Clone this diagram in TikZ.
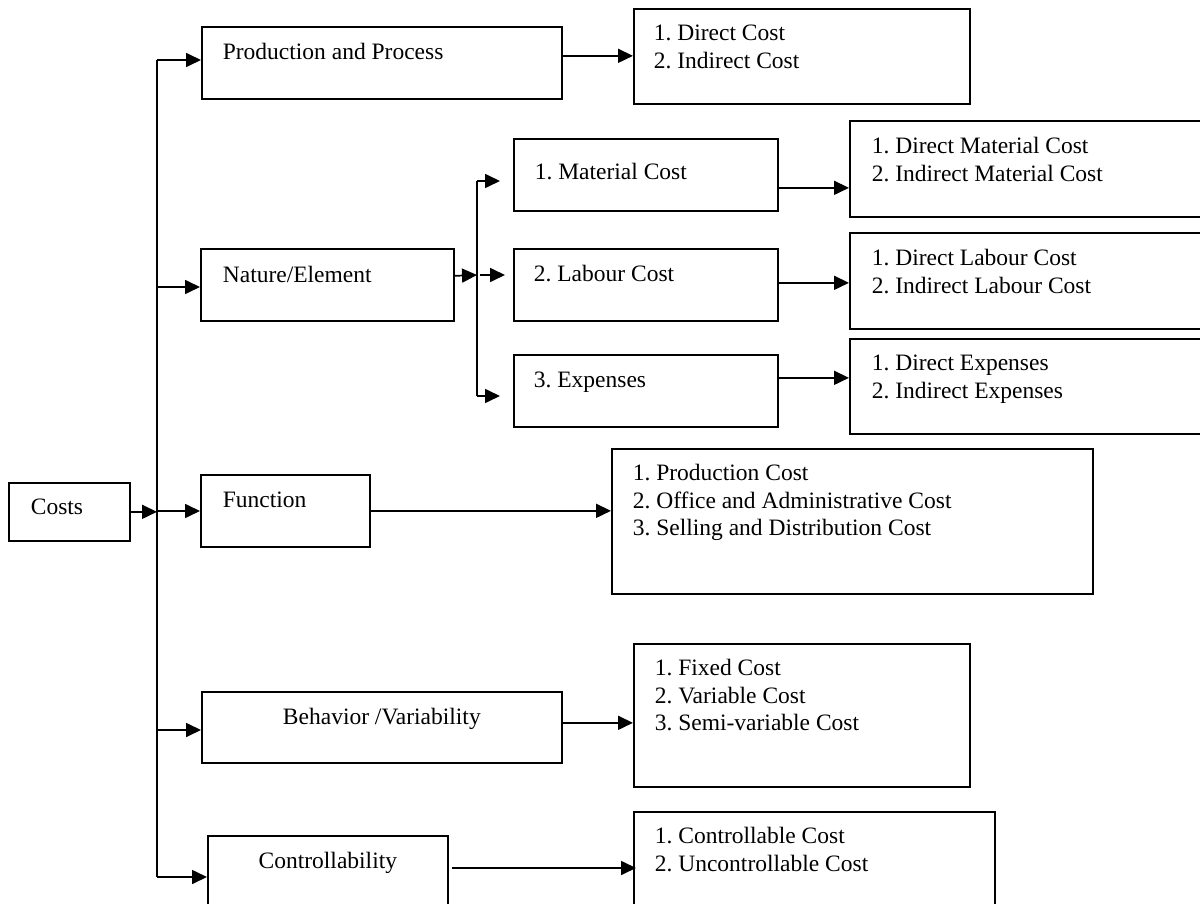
\documentclass[tikz,border=0pt]{standalone}
\usepackage{fontspec}
\setmainfont{Liberation Serif}
\usetikzlibrary{arrows.meta}
\usetikzlibrary{calc}
\frenchspacing

% width, height, first baseline, left pad, text
\newcommand{\boxtext}[5]{\parbox[t][#2][t]{#1}{\raggedright\leftskip=#4\relax
    \vspace*{\dimexpr#3-.7\baselineskip\relax}\strut#5\par}}

\begin{document}
\begin{tikzpicture}[x=1pt, y=-1pt, font=\fontsize{23.5}{27.3}\selectfont,
    box/.style={draw, line width=1.7pt, anchor=north west, inner sep=0pt},
    link/.style={-{Triangle[length=15pt, width=14pt]}, line width=1.7pt},
    trunk/.style={line width=1.7pt}]

    \useasboundingbox (0,0) rectangle (1200,904);
    \clip (0,0) rectangle (1200,904);

    % boxes
    \node[box] (costs) at (8,482) {\boxtext{121pt}{58pt}{32pt}{22pt}{Costs}};
    \node[box] (prod) at (201,26) {\boxtext{360pt}{72pt}{33pt}{21pt}{Production and Process}};
    \node[box] (nature) at (200,248) {\boxtext{253pt}{72pt}{34pt}{22pt}{Nature/Element}};
    \node[box] (func) at (200,474) {\boxtext{169pt}{72pt}{33pt}{22pt}{Function}};
    \node[box] (behav) at (201,691) {\boxtext{360pt}{71pt}{33pt}{0pt}{\centering Behavior /Variability}};
    \node[box] (ctrl) at (207,835) {\boxtext{240pt}{100pt}{33pt}{0pt}{\centering Controllability}};

    \node[box] (mat) at (513,138) {\boxtext{264pt}{72pt}{41pt}{21pt}{1. Material Cost}};
    \node[box] (lab) at (513,248) {\boxtext{264pt}{72pt}{33pt}{20pt}{2. Labour Cost}};
    \node[box] (exp) at (513,354) {\boxtext{264pt}{72pt}{33pt}{20pt}{3. Expenses}};

    % lists
    \node[box] (dcost) at (633,8) {\boxtext{336pt}{95pt}{32pt}{20pt}{1. Direct Cost\\2. Indirect Cost}};
    \node[box] (dmat) at (849,120) {\boxtext{400pt}{96pt}{33pt}{22pt}{1. Direct Material Cost\\2. Indirect Material Cost}};
    \node[box] (dlab) at (849,232) {\boxtext{400pt}{96pt}{33pt}{22pt}{1. Direct Labour Cost\\2. Indirect Labour Cost}};
    \node[box] (dexp) at (849,338) {\boxtext{400pt}{95pt}{32pt}{22pt}{1. Direct Expenses\\2. Indirect Expenses}};
    \node[box] (flist) at (611,448) {\boxtext{481pt}{145pt}{32pt}{21pt}{1. Production Cost\\2. Office and Administrative Cost\\3. Selling and Distribution Cost}};
    \node[box] (fixed) at (633,643) {\boxtext{336pt}{143pt}{32pt}{21pt}{1. Fixed Cost\\2. Variable Cost\\3. Semi-variable Cost}};
    \node[box] (clist) at (633,811) {\boxtext{361pt}{110pt}{32pt}{21pt}{1. Controllable Cost\\2. Uncontrollable Cost}};

    % trunk
    \coordinate (t1) at (157,60);
    \coordinate (t2) at (157,287);
    \coordinate (t3) at (157,511);
    \coordinate (t4) at (157,730);
    \coordinate (t5) at (157,877);
    \draw[trunk] (t1) -- (t5);
    \draw[link] (costs.east) -- (costs.east -| t3);
    \draw[link] (t1) -- (t1 -| prod.west);
    \draw[link] (t2) -- (t2 -| nature.west);
    \draw[link] (t3) -- (t3 -| func.west);
    \draw[link] (t4) -- (t4 -| behav.west);
    \draw[link] (t5) -- (t5 -| ctrl.west);

    % nature split
    \coordinate (s1) at (477,181);
    \coordinate (s2) at (477,275);
    \coordinate (s3) at (477,396);
    \draw[trunk] (s1) -- (s3);
    \draw[link] ([yshift=9pt]nature.east) -- (s2);
    \draw[link] (s1) -- ([xshift=-13pt]s1 -| mat.west);
    \draw[link] ([xshift=3pt]s2) -- ([xshift=-8pt]s2 -| lab.west);
    \draw[link] (s3) -- ([xshift=-13pt]s3 -| exp.west);

    % to lists
    \draw[link] ([yshift=7pt]prod.east) -- ([yshift=7pt]prod.east -| dcost.west);
    \draw[link] ([yshift=-13pt]mat.east) -- ([yshift=-13pt]mat.east -| dmat.west);
    \draw[link] ([yshift=2pt]lab.east) -- ([yshift=2pt]lab.east -| dlab.west);
    \draw[link] ([yshift=13pt]exp.east) -- ([yshift=13pt]exp.east -| dexp.west);
    \draw[link] (func.east) -- (func.east -| flist.west);
    \draw[link] ([yshift=4.5pt]behav.east) -- ([yshift=4.5pt]behav.east -| fixed.west);
    \draw[link] ([shift={(3pt,-33pt)}]ctrl.north east) -- ([shift={(3pt,-33pt)}]ctrl.north east -| clist.west);
\end{tikzpicture}
\end{document}
